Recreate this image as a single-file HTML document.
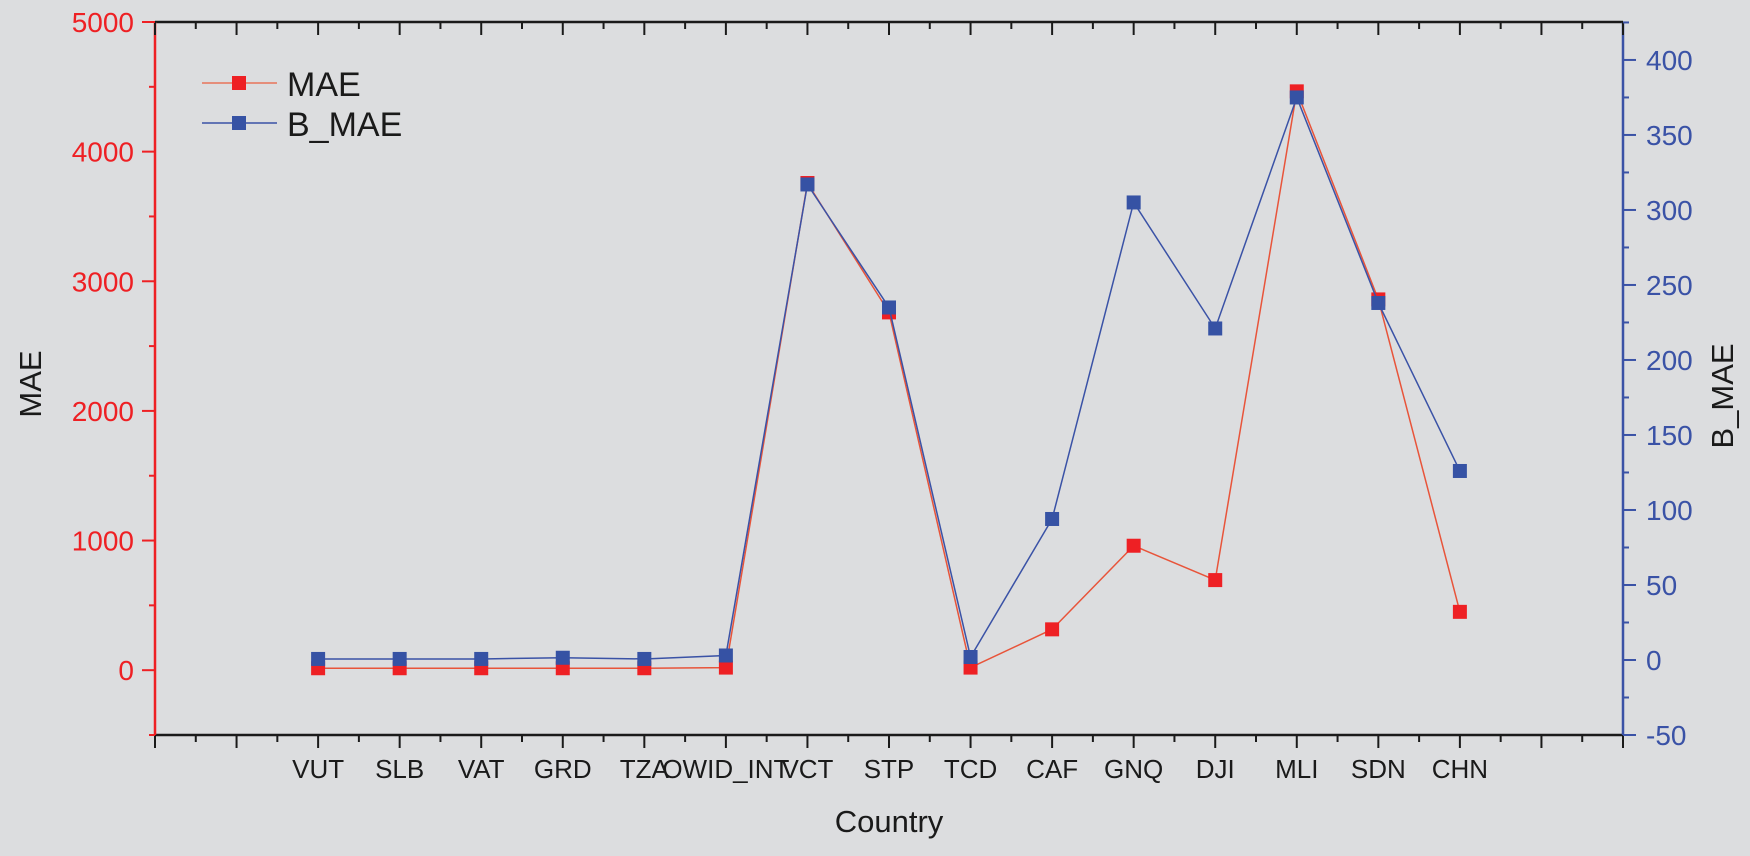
<!DOCTYPE html>
<html><head><meta charset="utf-8"><style>
html,body{margin:0;padding:0;background:#dcdddf;}
svg{display:block;font-family:"Liberation Sans",Arial,sans-serif;}
</style></head><body>
<svg id="chart" width="1750" height="856" viewBox="0 0 1750 856" xmlns="http://www.w3.org/2000/svg">
<rect width="1750" height="856" fill="#dcdddf"/>
<g id="axes"></g>
<g id="series"></g>
<g id="legend">
  <line x1="202" y1="83" x2="277" y2="83" stroke="#e8745a" stroke-width="1.5"/>
  <rect x="232" y="76" width="14" height="14" fill="#ee2024"/>
  <text x="287" y="96" font-size="34" fill="#1a1a1a">MAE</text>
  <line x1="202" y1="123" x2="277" y2="123" stroke="#3a52a6" stroke-width="1.5"/>
  <rect x="232" y="116" width="14" height="14" fill="#3652a4"/>
  <text x="287" y="136" font-size="34" fill="#1a1a1a">B_MAE</text>
</g>
</svg>
<script>
const categories = ["VUT","SLB","VAT","GRD","TZA","OWID_INT","VCT","STP","TCD","CAF","GNQ","DJI","MLI","SDN","CHN"];
const maeValues = [15, 15, 15, 15, 15, 20, 3758, 2760, 20, 315, 960, 695, 4465, 2860, 450];
const bMaeValues = [0.7, 0.7, 0.7, 1.5, 0.7, 3, 317, 235, 2, 94, 305, 221, 375, 238, 126];
const leftTicks = [0, 1000, 2000, 3000, 4000, 5000];
const rightTicks = [-50, 0, 50, 100, 150, 200, 250, 300, 350, 400];

const NS = "http://www.w3.org/2000/svg";
const L = 155, R = 1623, T = 22, B = 735;
const xMin = 0, xMax = 18;
const yLMin = -500, yLMax = 5000;
const yRMin = -50, yRMax = 425.3;
function xPos(i){ return L + (i + 2 - xMin) / (xMax - xMin) * (R - L); }
function xRaw(v){ return L + (v - xMin) / (xMax - xMin) * (R - L); }
function yL(v){ return B - (v - yLMin) / (yLMax - yLMin) * (B - T); }
function yR(v){ return B - (v - yRMin) / (yRMax - yRMin) * (B - T); }
function mk(tag, attrs, parent){
  const e = document.createElementNS(NS, tag);
  for (const k in attrs) e.setAttribute(k, attrs[k]);
  parent.appendChild(e);
  return e;
}
const axes = document.getElementById("axes");
const series = document.getElementById("series");

let e;
e = mk("line",{x1:L,y1:T,x2:R,y2:T,stroke:"#1a1a1a","stroke-width":2.5},axes);
 
e = mk("line",{x1:L,y1:B,x2:R,y2:B,stroke:"#1a1a1a","stroke-width":2.5},axes);
 
e = mk("line",{x1:L,y1:T,x2:L,y2:B,stroke:"#ee2024","stroke-width":2.5},axes);
 
e = mk("line",{x1:R,y1:T,x2:R,y2:B,stroke:"#3a52a6","stroke-width":2.5},axes);
 

for (let v = xMin; v <= xMax; v += 0.5) {
  const major = Number.isInteger(v);
  const x = xRaw(v);
  mk("line",{x1:x,y1:B,x2:x,y2:B+(major?13:7),stroke:"#1a1a1a","stroke-width":2},axes);
  mk("line",{x1:x,y1:T,x2:x,y2:T+(major?13:7),stroke:"#1a1a1a","stroke-width":2},axes);
}
categories.forEach((c,i)=>{
  const t = mk("text",{x:xPos(i),y:778,"font-size":26,"text-anchor":"middle",fill:"#1a1a1a"},axes);
  t.textContent = c;
  
  
});
for (let v = yLMin; v <= yLMax; v += 500) {
  const major = v % 1000 === 0;
  mk("line",{x1:L,y1:yL(v),x2:L-(major?13:6),y2:yL(v),stroke:"#ee2024","stroke-width":2},axes);
}
leftTicks.forEach(v=>{
  const t = mk("text",{x:134,y:yL(v)+10,"font-size":28,"text-anchor":"end",fill:"#ee2024"},axes);
  t.textContent = v;
  
  
});
for (let v = yRMin; v <= 425; v += 25) {
  const major = v % 50 === 0;
  mk("line",{x1:R,y1:yR(v),x2:R+(major?13:6),y2:yR(v),stroke:"#3a52a6","stroke-width":2},axes);
}
rightTicks.forEach(v=>{
  const t = mk("text",{x:1646,y:yR(v)+10,"font-size":28,"text-anchor":"start",fill:"#3a52a6"},axes);
  t.textContent = v;
  
  
});
e = mk("text",{x:889,y:832,"font-size":31,"text-anchor":"middle",fill:"#1a1a1a"},axes);
e.textContent = "Country";
 
e = mk("text",{x:0,y:0,"font-size":31,"text-anchor":"middle",fill:"#1a1a1a",transform:"translate(41,384) rotate(-90)"},axes);
e.textContent = "MAE";
 
e = mk("text",{x:0,y:0,"font-size":31,"text-anchor":"middle",fill:"#1a1a1a",transform:"translate(1733,396) rotate(-90)"},axes);
e.textContent = "B_MAE";
 

function drawSeries(vals, yf, lineColor, fill, name){
  const pts = vals.map((v,i)=>xPos(i)+","+yf(v)).join(" ");
  const pl = mk("polyline",{points:pts,fill:"none",stroke:lineColor,"stroke-width":1.5},series);
  
  
  vals.forEach((v,i)=>{
    const r = mk("rect",{x:xPos(i)-7,y:yf(v)-7,width:14,height:14,fill:fill},series);
    
    
  });
}
drawSeries(maeValues, yL, "#e8543a", "#ee2024", "mae");
drawSeries(bMaeValues, yR, "#3a52a6", "#3652a4", "b-mae");
</script>
</body></html>
